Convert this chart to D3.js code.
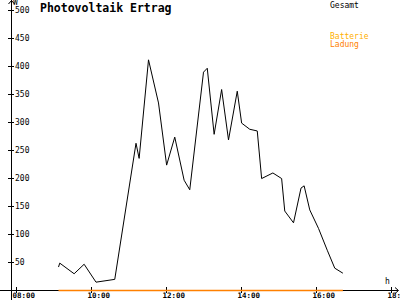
<!DOCTYPE html>
<html>
<head>
<meta charset="utf-8">
<script src="https://cdn.jsdelivr.net/npm/d3@7"></script>
<style>
  body { margin: 0; background: #fff; }
  svg { display: block; }
  text { font-family: "DejaVu Sans Mono", monospace; }
</style>
</head>
<body>
<div id="chart"></div>
<script>
// Gesamt (total) readings, time of day -> watts
var times = ["9:08","9:10","9:33","9:49","10:08","10:38","11:12","11:17","11:32","11:48",
             "12:01","12:14","12:29","12:38","13:00","13:06","13:17","13:29","13:40","13:54",
             "14:01","14:14","14:26","14:33","14:51","15:05","15:10","15:24","15:36","15:41",
             "15:50","16:04","16:18","16:30","16:43"];
var gesamt = [41,48,29,46,14,19,262,235,411,334,
              223,273,196,179,389,396,278,358,268,355,
              298,287,284,199,209,199,141,120,182,186,
              143,110,71,39,30];
// Ladung stays at 0 the whole time
var ladungTimes = ["9:08","16:43"];
var ladung = [0, 0];

var yTicks = [50,100,150,200,250,300,350,400,450,500];
var xTicks = ["08:00","10:00","12:00","14:00","16:00","18:00"];
var legendNames = ["Gesamt","Batterie","Ladung"];
var legendColors = ["#000000","#ffb000","#ff8000"];

var width = 400, height = 300;
var parse = d3.timeParse("%H:%M");

var x = d3.scaleTime()
  .domain([parse("08:00"), parse("18:00")])
  .range([16, 391]);
var y = d3.scaleLinear()
  .domain([0, 500])
  .range([290, 10]);

var svg = d3.select("#chart").append("svg")
  .attr("width", width)
  .attr("height", height);

// y axis (labels on the right of the line)
var yAxis = svg.append("g")
  .attr("transform", "translate(11,0)")
  .call(d3.axisRight(y).tickValues(yTicks).tickSize(3).tickPadding(1));
yAxis.select(".domain").remove();
yAxis.selectAll(".tick line").attr("x1", -3).attr("x2", 3).attr("stroke", "#000").attr("shape-rendering", "crispEdges");
yAxis.selectAll(".tick text").attr("font-size", 8).attr("fill", "#000")
  .attr("font-family", "DejaVu Sans Mono");

svg.append("line")
  .attr("x1", 11.5).attr("x2", 11.5).attr("y1", 0).attr("y2", 300)
  .attr("stroke", "#000");
svg.append("path")
  .attr("d", "M8.5,4 L11.5,0.5 L14.5,4")
  .attr("fill", "none").attr("stroke", "#000");

// x axis
var xAxis = svg.append("g")
  .attr("transform", "translate(0,290)")
  .call(d3.axisBottom(x).tickValues(xTicks.map(parse)).tickSize(3)
    .tickFormat(d3.timeFormat("%H:%M")));
xAxis.select(".domain").remove();
xAxis.selectAll(".tick line").attr("y1", -3).attr("y2", 3).attr("stroke", "#000").attr("shape-rendering", "crispEdges");
xAxis.selectAll(".tick text")
  .attr("font-size", 7.5).attr("fill", "#000").attr("font-weight", "bold")
  .attr("font-family", "DejaVu Sans Mono")
  .attr("text-anchor", "start").attr("x", -4).attr("y", 3).attr("dy", "0.71em");

svg.append("line")
  .attr("x1", 0).attr("x2", 398).attr("y1", 290.5).attr("y2", 290.5)
  .attr("stroke", "#000");
svg.append("path")
  .attr("d", "M395,287.5 L398.5,290.5 L395,293.5")
  .attr("fill", "none").attr("stroke", "#000");

svg.append("text").attr("x", 13).attr("y", 5).attr("font-size", 8).text("W");
svg.append("text").attr("x", 385).attr("y", 284).attr("font-size", 8).text("h");

// Ladung line on the zero line
var lineL = d3.line()
  .x(function(d, i) { return x(parse(ladungTimes[i])); })
  .y(function(d) { return Math.round(y(d)) + 0.5; });
svg.append("path")
  .datum(ladung)
  .attr("d", lineL)
  .attr("fill", "none")
  .attr("stroke", legendColors[2])
  .attr("stroke-width", 1.5);

// Gesamt line
var line = d3.line()
  .x(function(d, i) { return x(parse(times[i])); })
  .y(function(d) { return y(d); });
svg.append("path")
  .datum(gesamt)
  .attr("d", line)
  .attr("fill", "none")
  .attr("stroke", "#000")
  .attr("stroke-width", 1);

// title
svg.append("text")
  .attr("x", 40).attr("y", 12)
  .attr("font-size", 11.5).attr("font-weight", "bold")
  .text("Photovoltaik Ertrag");

// legend
var legendY = [7.5, 38.5, 47];
svg.selectAll(".legend")
  .data(legendNames)
  .enter()
  .append("text")
  .attr("class", "legend")
  .attr("x", 330)
  .attr("y", function(d, i) { return legendY[i]; })
  .attr("font-size", 8)
  .attr("fill", function(d, i) { return legendColors[i]; })
  .text(function(d) { return d; });
</script>
</body>
</html>
